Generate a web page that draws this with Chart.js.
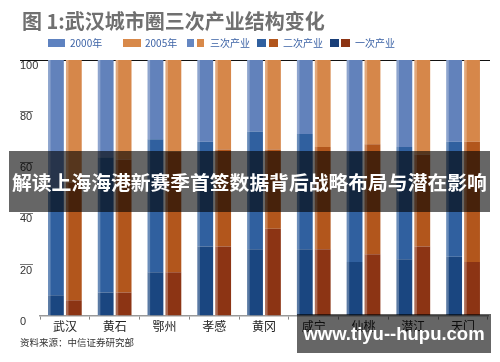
<!DOCTYPE html>
<html>
<head>
<meta charset="utf-8">
<script src="https://cdn.jsdelivr.net/npm/chart.js@4"></script>
<style>
  body { margin: 0; background: #fff; }
  #wrap { position: relative; width: 500px; height: 362px; overflow: hidden; font-family: "Noto Sans CJK SC", "Noto Sans", sans-serif; }
  #chart { position: absolute; left: 0; top: 0; }
  .title { position: absolute; left: 22px; top: 6px; font-size: 20px; font-weight: bold; color: #707070; white-space: nowrap; }
  .legend { position: absolute; top: 36px; left: 0; font-size: 10px; color: #3d63a6; }
  .legend span { position: absolute; top: 0; white-space: nowrap; line-height: 14px; }
  .legend i { position: absolute; top: 3px; height: 8px; display: block; }
  .source { position: absolute; left: 20px; top: 335px; font-size: 9.5px; color: #333; white-space: nowrap; }
  .banner { position: absolute; left: 9px; top: 151px; width: 481px; height: 61px; background: rgba(0,0,0,0.6);
            color: #fff; font-size: 19.8px; font-weight: bold; line-height: 61px; white-space: nowrap; text-indent: 3px; }
  .mark { position: absolute; left: 297px; top: 314px; width: 194px; height: 39px; background: rgba(0,0,0,0.6);
          color: #fff; font-size: 18.5px; font-weight: bold; line-height: 39px; text-align: center; white-space: nowrap;
          font-family: "Liberation Sans", Arial, sans-serif; }
</style>
</head>
<body>
<div id="wrap">
  <canvas id="chart" width="500" height="362"></canvas>
  <div class="title">图 1:武汉城市圈三次产业结构变化</div>
  <div class="legend">
    <i style="left:48px;width:17px;background:#5e82c0"></i><span style="left:70px">2000年</span>
    <i style="left:123px;width:18px;background:#d8894a"></i><span style="left:145px">2005年</span>
    <i style="left:187px;width:7px;background:#6587c2"></i><i style="left:197px;width:7px;background:#d8894a"></i><span style="left:210px">三次产业</span>
    <i style="left:257px;width:9px;background:#30609f"></i><i style="left:269px;width:9px;background:#b2561c"></i><span style="left:283px">二次产业</span>
    <i style="left:330px;width:9px;background:#1a3f78"></i><i style="left:341px;width:9px;background:#8c3414"></i><span style="left:355px">一次产业</span>
  </div>
  <div class="source">资料来源：中信证券研究部</div>
  <div class="banner">解读上海海港新赛季首签数据背后战略布局与潜在影响</div>
  <div class="mark">www.tiyu--hupu.com</div>
</div>
<script>
const cities = ['武汉', '黄石', '鄂州', '孝感', '黄冈', '咸宁', '仙桃', '潜江', '天门'];
const yTicks = [0, 20, 40, 60, 80, 100];

// 2000年 structure (%)
const primary2000 = [8, 9, 17, 27, 26, 26, 21, 22, 23];
const secondary2000 = [42, 53, 52, 41, 46, 45, 43, 44, 45];
const tertiary2000 = [50, 38, 31, 32, 28, 29, 36, 34, 32];

// 2005年 structure (%)
const primary2005 = [6, 9, 17, 27, 34, 26, 24, 27, 21];
const secondary2005 = [46, 52, 47, 38, 31, 40, 43, 36, 47];
const tertiary2005 = [48, 39, 36, 35, 35, 34, 33, 37, 32];

// top reference line and little tick dashes on the left
const axisDecor = {
    id: 'axisDecor',
    beforeDatasetsDraw(chart) {
        const ctx = chart.ctx;
        const y = chart.scales.y;
        ctx.save();
        ctx.strokeStyle = '#111';
        ctx.lineWidth = 1.2;
        ctx.beginPath();
        ctx.moveTo(20, Math.round(y.getPixelForValue(100)) + 0.5);
        ctx.lineTo(490, Math.round(y.getPixelForValue(100)) + 0.5);
        ctx.stroke();
        ctx.strokeStyle = '#777';
        ctx.lineWidth = 1;
        yTicks.slice(1, 5).forEach(v => {
            const py = Math.round(y.getPixelForValue(v)) + 0.5;
            ctx.beginPath();
            ctx.moveTo(20, py);
            ctx.lineTo(33, py);
            ctx.stroke();
        });
        ctx.restore();
    },
    afterDatasetsDraw(chart) {
        // light stripe on the left of each bar
        const ctx = chart.ctx;
        ctx.save();
        chart.data.datasets.forEach((ds, i) => {
            chart.getDatasetMeta(i).data.forEach(bar => {
                const left = bar.x - bar.width / 2;
                ctx.fillStyle = 'rgba(255,255,255,0.28)';
                ctx.fillRect(left, bar.y, 2.5, bar.base - bar.y);
            });
        });
        ctx.restore();
    }
};

function ds(label, data, color, stack) {
    return { label, data, backgroundColor: color, stack, borderWidth: 0,
             categoryPercentage: 0.72, barPercentage: 0.88 };
}

new Chart(document.getElementById('chart'), {
    type: 'bar',
    data: {
        labels: cities,
        datasets: [
            ds('2000 一次产业', primary2000, '#1a4680', '2000'),
            ds('2000 二次产业', secondary2000, '#30609f', '2000'),
            ds('2000 三次产业', tertiary2000, '#6282bb', '2000'),
            ds('2005 一次产业', primary2005, '#8c3414', '2005'),
            ds('2005 二次产业', secondary2005, '#b2561c', '2005'),
            ds('2005 三次产业', tertiary2005, '#d6874a', '2005')
        ]
    },
    options: {
        responsive: false,
        animation: false,
        layout: { padding: { top: 60, left: 20, right: 12, bottom: 28 } },
        plugins: { legend: { display: false }, tooltip: { enabled: false } },
        scales: {
            x: {
                stacked: true,
                grid: { display: true, drawOnChartArea: false, offset: true, tickLength: 4, color: '#888' },
                border: { display: true, color: '#999', width: 1.5 },
                ticks: { color: '#222', font: { size: 12, family: '"Noto Sans CJK SC"' }, padding: 0 }
            },
            y: {
                stacked: true,
                min: 0,
                max: 100,
                afterFit(scale) { scale.width = 20; },
                afterBuildTicks(scale) { scale.ticks = yTicks.map(v => ({ value: v })); },
                grid: { display: false },
                border: { display: false },
                ticks: { color: '#333', font: { size: 11, family: '"Liberation Sans Narrow", "Liberation Sans"' },
                         crossAlign: 'far', padding: 0, labelOffset: 6 }
            }
        }
    },
    plugins: [axisDecor]
});
</script>
</body>
</html>
